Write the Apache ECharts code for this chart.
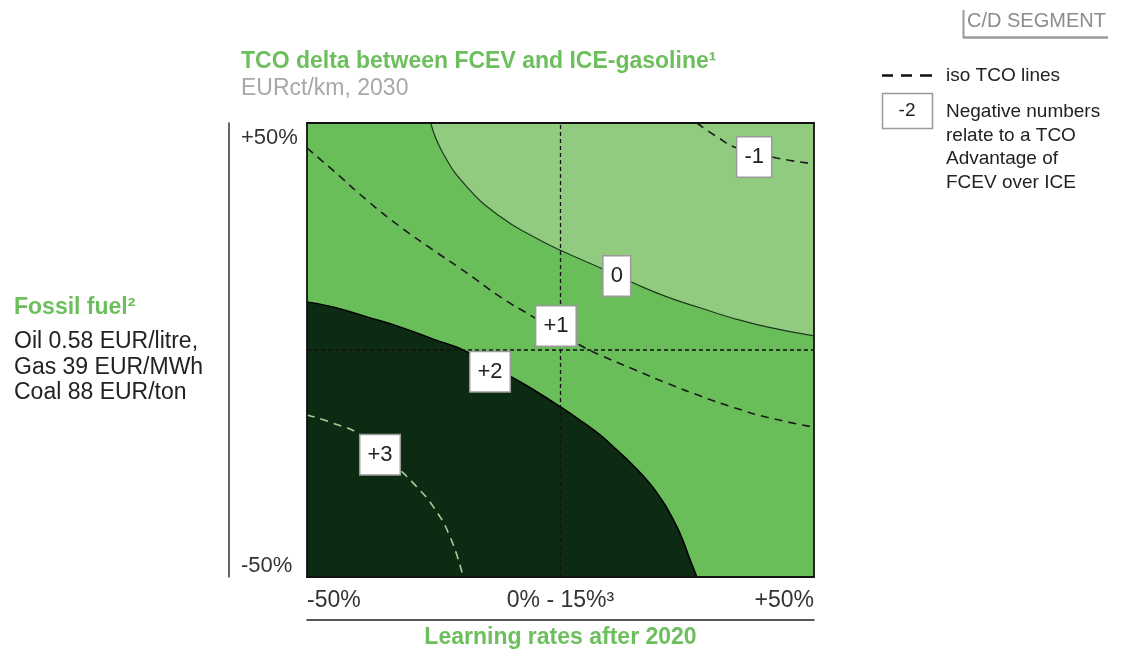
<!DOCTYPE html>
<html><head><meta charset="utf-8">
<script src="https://cdn.jsdelivr.net/npm/echarts@6/dist/echarts.min.js"></script>
<style>html,body{margin:0;padding:0;background:#fff}#c{width:1125px;height:650px}</style>
</head><body><div id="c"></div>
<script>
// ---- data (percent change of learning rate on x, fossil fuel price on y) ----
const xTickValues = [-50, 0, 50];
const xTickLabels = ['-50%', '0% - 15%³', '+50%'];
const yTickValues = [-50, 50];
const yTickLabels = ['-50%', '+50%'];

// solid contour: TCO delta = 0 (light region above/right)
const zeroBoundary = [[-25.6,50],[-23.2,43.4],[-18.5,36.0],[-11.9,29.4],[-5.4,25.0],[0.1,21.9],[7.8,18.1],[14.3,14.8],[21.0,11.7],[27.5,9.3],[34.0,7.0],[40.7,5.1],[50,3.1]];
// solid contour: TCO delta = +2 (dark region below/left)
const twoBoundary = [[-50,10.6],[-44.9,9.5],[-38.2,7.3],[-31.7,5.1],[-25.1,2.4],[-18.4,-0.4],[-10.2,-5.6],[-5.4,-8.7],[0.1,-12.6],[4.4,-15.9],[7.8,-18.7],[11.1,-22.0],[14.3,-25.4],[17.7,-29.5],[19.6,-32.4],[21.0,-34.8],[23.0,-39.0],[24.2,-42.1],[25.5,-46.0],[26.9,-50]];
// dashed iso lines
const isoPlusOne = [[-50,44.5],[-44.9,39.6],[-38.2,33.0],[-31.7,27.2],[-25.1,22.0],[-18.5,17.0],[-11.9,11.7],[-5.4,7.3],[3.8,1.1],[7.8,-1.1],[14.3,-4.2],[21.0,-7.3],[27.5,-10.1],[34.0,-12.6],[40.7,-14.8],[50,-17.0]];
const isoMinusOne = [[26.9,50],[30.8,47.0],[34.8,44.5],[42.6,42.3],[50,41.0]];
const isoPlusThree = [[-50,-14.3],[-44.9,-16.1],[-39.5,-18.7],[-31.7,-26.4],[-28.4,-30.1],[-25.1,-34.5],[-21.8,-41.1],[-19.2,-50]];
const crossV = [[0,-50],[0,50]];
const crossH = [[-50,0],[50,0]];
// contour value labels
const isoLabels = ['-1','0','+1','+2','+3'];
const isoLabelPos = [[38.2,42.5],[11.1,16.3],[-0.9,5.3],[-13.9,-4.8],[-35.6,-23.1]];

const FONT = "'Liberation Sans', Arial, sans-serif";
const GREEN = '#6cbf5c';
const LIGHT = '#90cb7f';
const MID = '#6abe5a';
const DARK = '#0c2b12';

const frameAxis = (pos) => ({
  type:'value', min:-50, max:50, position:pos, offset:0, z:10,
  axisLine:{show:true, onZero:false, lineStyle:{color:'#111', width:1.8}},
  axisTick:{show:false}, axisLabel:{show:false}, splitLine:{show:false}
});

const chart = echarts.init(document.getElementById('c'), null, {renderer:'canvas'});
chart.setOption({
  animation:false,
  textStyle:{fontFamily:FONT},
  title:{
    text:'TCO delta between FCEV and ICE-gasoline¹',
    subtext:'EURct/km, 2030',
    left:241, top:50, padding:0, itemGap:4,
    textStyle:{fontFamily:FONT, fontSize:23, fontWeight:'bold', color:GREEN},
    subtextStyle:{fontFamily:FONT, fontSize:23, color:'#a8a8a8'}
  },
  legend:{
    data:[{name:'iso TCO lines', icon:'path://M0,0H11V2H0Z M19,0H30V2H19Z M38,0H50V2H38Z'}],
    left:882, top:66, padding:0, itemWidth:50, itemHeight:2.5, symbolKeepAspect:false,
    selectedMode:false, itemStyle:{color:'#111'},
    textStyle:{fontFamily:FONT, fontSize:19, color:'#222', padding:[0,0,0,9]}
  },
  grid:{left:307, top:123, width:507, height:454, show:true, backgroundColor:MID, borderWidth:0, outerBoundsMode:'none', containLabel:false},
  xAxis:[
    {
      type:'value', min:-50, max:50, position:'bottom', offset:43, z:10,
      axisLine:{show:true, onZero:false, lineStyle:{color:'#222', width:1.5}},
      axisTick:{show:false}, splitLine:{show:false},
      axisLabel:{inside:true, margin:8, customValues:xTickValues,
        formatter:(v)=>xTickLabels[xTickValues.indexOf(v)],
        alignMinLabel:'left', alignMaxLabel:'right',
        fontFamily:FONT, fontSize:23, color:'#333'},
      name:'Learning rates after 2020', nameLocation:'middle', nameGap:6,
      nameTextStyle:{fontFamily:FONT, fontSize:23, fontWeight:'bold', color:GREEN, verticalAlign:'top'}
    },
    frameAxis('top'),
    frameAxis('bottom')
  ],
  yAxis:[
    {
      type:'value', min:-50, max:50, position:'left', offset:78, z:10,
      axisLine:{show:true, onZero:false, lineStyle:{color:'#333', width:1.5}},
      axisTick:{show:false}, splitLine:{show:false},
      axisLabel:{inside:true, margin:12, customValues:yTickValues,
        formatter:(v)=>yTickLabels[yTickValues.indexOf(v)],
        verticalAlignMinLabel:'bottom', verticalAlignMaxLabel:'top',
        padding:[4,0,0,0],
        fontFamily:FONT, fontSize:22, color:'#333'}
    },
    frameAxis('left'),
    frameAxis('right')
  ],
  series:[
    {type:'line', name:'zero', data:zeroBoundary, smooth:0.5, symbol:'none', silent:true,
      lineStyle:{color:'#1d3a1d', width:1.2}, areaStyle:{color:LIGHT, opacity:1, origin:'end'}, z:2},
    {type:'line', name:'two', data:twoBoundary, smooth:0.5, symbol:'none', silent:true,
      lineStyle:{color:'#000', width:1.5}, areaStyle:{color:DARK, opacity:1, origin:'start'}, z:2},
    {type:'line', name:'iso TCO lines', data:isoPlusOne, smooth:0.5, symbol:'none', silent:true, color:'#111',
      lineStyle:{color:'#1a1a1a', width:1.6, type:[8,6]}, z:3},
    {type:'line', name:'iso TCO lines', data:isoMinusOne, smooth:0.5, symbol:'none', silent:true, color:'#111',
      lineStyle:{color:'#1a1a1a', width:1.6, type:[8,6]}, z:3},
    {type:'line', name:'iso3', data:isoPlusThree, smooth:0.5, symbol:'none', silent:true,
      lineStyle:{color:'#a3cf95', width:1.6, type:[8,6]}, z:3},
    {type:'line', name:'crossV', data:crossV, symbol:'none', silent:true,
      lineStyle:{color:'#111', width:1.3, type:[4,3]}, z:4},
    {type:'line', name:'crossH', data:crossH, symbol:'none', silent:true,
      lineStyle:{color:'#111', width:1.3, type:[4,3]}, z:4},
    {type:'scatter', name:'labels', silent:true, symbolSize:0.1, itemStyle:{color:'#ffffff', opacity:1},
      data:isoLabels.map((t,i)=>({name:t, value:isoLabelPos[i]})),
      label:{show:true, position:'inside', formatter:'{b}', backgroundColor:'#ffffff', borderColor:'#9a9a9a', borderWidth:1.5,
        padding:[9,7,8,7], fontFamily:FONT, fontSize:22, color:'#222', opacity:1}, z:10}
  ],
  graphic:[
    {type:'text', left:967, top:11, style:{text:'C/D SEGMENT', font:'20px '+FONT, fill:'#8c8c8c'}},
    {type:'line', shape:{x1:963.5, y1:10, x2:963.5, y2:38}, style:{stroke:'#9a9a9a', lineWidth:2}},
    {type:'line', shape:{x1:963, y1:37.5, x2:1108, y2:37.5}, style:{stroke:'#9a9a9a', lineWidth:2.5}},
    {type:'rect', shape:{x:882.5, y:93.5, width:50, height:35}, style:{fill:'#fff', stroke:'#9a9a9a', lineWidth:1.5}},
    {type:'text', x:907, y:111, style:{text:'-2', font:'19px '+FONT, fill:'#222', align:'center', verticalAlign:'middle'}},
    {type:'text', x:946, y:100, style:{text:'Negative numbers\nrelate to a TCO\nAdvantage of\nFCEV over ICE', font:'19px '+FONT, fill:'#222', lineHeight:23.6, verticalAlign:'top'}},
    {type:'text', x:14, y:308, style:{text:'Fossil fuel²', font:'bold 23px '+FONT, fill:GREEN, verticalAlign:'middle'}},
    {type:'text', x:14, y:329, style:{text:'Oil 0.58 EUR/litre,\nGas 39 EUR/MWh\nCoal 88 EUR/ton', font:'23px '+FONT, fill:'#222', lineHeight:25.5, verticalAlign:'top'}}
  ]
});
</script></body></html>
